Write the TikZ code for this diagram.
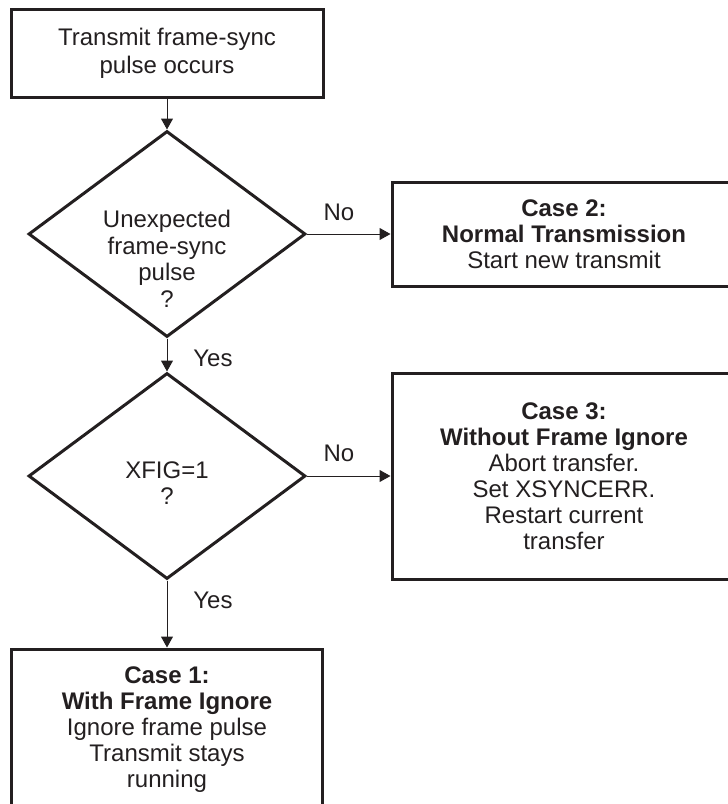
\documentclass[tikz,border=0pt]{standalone}
\usepackage{fontspec}
\setmainfont{Liberation Sans}
\usetikzlibrary{shapes.geometric,arrows.meta}
\definecolor{ink}{HTML}{231F20}
\begin{document}
\begin{tikzpicture}[x=1pt,y=-1pt,
  box/.style={draw=ink, line width=3pt, rectangle, inner sep=0pt, align=center, text=ink, font=\fontsize{24}{26}\selectfont},
  dec/.style={draw=ink, line width=3pt, diamond, aspect=1.345, minimum width=277pt, minimum height=206pt, inner sep=0pt},
  dtext/.style={align=center, text=ink, inner sep=0pt, font=\fontsize{24}{26.5}\selectfont},
  conn/.style={draw=ink, line width=1pt, -{Triangle[length=11pt,width=12pt]}},
  lab/.style={text=ink, font=\fontsize{24}{26}\selectfont, inner sep=0pt, anchor=base}]
\useasboundingbox (0,0) rectangle (728,804);
\clip (0,0) rectangle (728,804);

\node[box, minimum width=312pt, minimum height=88pt, font=\fontsize{24}{28}\selectfont] (start) at (167,53) {Transmit frame-sync\\pulse occurs};

\node[dec] (d1) at (167,234) {};
\node[dtext] (d1t) at (167,259) {Unexpected\\frame-sync\\pulse\\?};

\node[dec] (d2) at (167,476) {};
\node[dtext] (d2t) at (167,483) {XFIG=1\\?};

\node[box, minimum width=344pt, minimum height=104pt] (c2) at (564,234) {\textbf{Case 2:}\\\textbf{Normal Transmission}\\Start new transmit};
\node[box, minimum width=344pt, minimum height=206pt] (c3) at (564,476) {\textbf{Case 3:}\\\textbf{Without Frame Ignore}\\Abort transfer.\\Set XSYNCERR.\\Restart current\\transfer};
\node[box, minimum width=311pt, minimum height=161pt] (c1) at (167,729.5) {\textbf{Case 1:}\\\textbf{With Frame Ignore}\\Ignore frame pulse\\Transmit stays\\running};

\draw[conn] (start) -- (d1);
\draw[conn] (d1) -- (c2);
\draw[conn] (d1) -- (d2);
\draw[conn] (d2) -- (c3);
\draw[conn] (d2) -- (c1);

\node[lab] (n1) at (339,220.5) {No};
\node[lab] (n2) at (339,461.5) {No};
\node[lab] (y1) at (213,366.5) {Yes};
\node[lab] (y2) at (213,608.5) {Yes};
\end{tikzpicture}
\end{document}
